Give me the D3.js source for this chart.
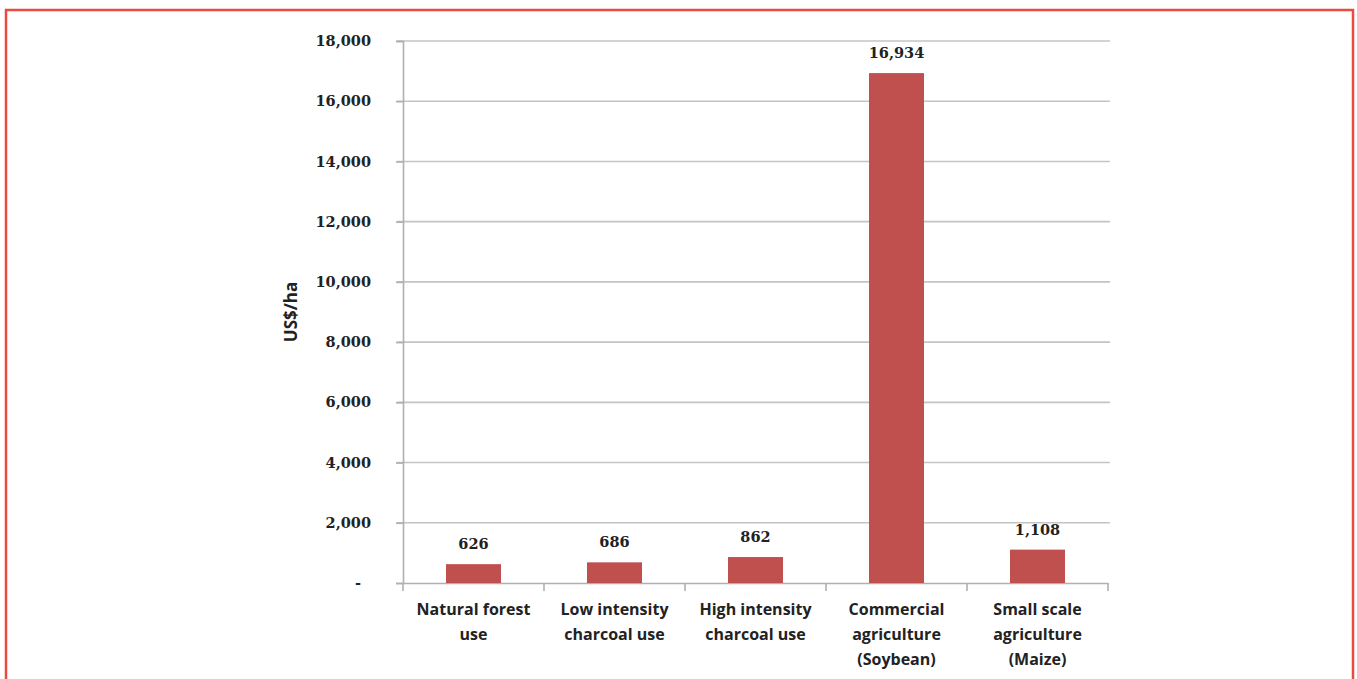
<!DOCTYPE html>
<html>
<head>
<meta charset="utf-8">
<script src="https://cdn.jsdelivr.net/npm/d3@7"></script>
<style>
  html, body { margin: 0; padding: 0; background: #fff; }
  svg { display: block; }
</style>
</head>
<body>
<svg id="chart" width="1357" height="679"></svg>
<script>
// Net returns per hectare by land use
const categories = [
  ["Natural forest", "use"],
  ["Low intensity", "charcoal use"],
  ["High intensity", "charcoal use"],
  ["Commercial", "agriculture", "(Soybean)"],
  ["Small scale", "agriculture", "(Maize)"]
];
const values = [626, 686, 862, 16934, 1108];
const yTicks = [0, 2000, 4000, 6000, 8000, 10000, 12000, 14000, 16000, 18000];
const yLabel = "US$/ha";

const svg = d3.select("#chart");

// outer frame
svg.append("rect")
  .attr("x", 6).attr("y", 10)
  .attr("width", 1347).attr("height", 700)
  .attr("fill", "none")
  .attr("stroke", "#ea4a3f")
  .attr("stroke-width", 2.5);

const plotLeft = 403, plotRight = 1108, plotTop = 41, plotBottom = 583;

const x = d3.scaleBand()
  .domain(d3.range(values.length))
  .range([plotLeft, plotRight])
  .paddingInner(0.61)
  .paddingOuter(0.305);

const y = d3.scaleLinear().domain([0, 18000]).range([plotBottom, plotTop]);

const numFmt = d3.format(",");
const serif = "'DejaVu Serif', 'Liberation Serif', serif";
const sans = "'Open Sans', Lato, sans-serif";

// gridlines
svg.append("g")
  .selectAll("line")
  .data(yTicks.filter(d => d > 0))
  .join("line")
  .attr("x1", plotLeft - 6).attr("x2", plotRight + 2)
  .attr("y1", d => y(d)).attr("y2", d => y(d))
  .attr("stroke", "#c4c4c4")
  .attr("stroke-width", 1.6);

// y axis
const yAxis = svg.append("g")
  .attr("transform", `translate(${plotLeft},0)`)
  .call(d3.axisLeft(y).tickValues(yTicks).tickSize(7).tickPadding(25)
    .tickFormat(d => d === 0 ? "-" : numFmt(d)));
yAxis.select(".domain").attr("stroke", "#b0b0b0").attr("stroke-width", 1.6);
yAxis.selectAll(".tick line").attr("stroke", "#b0b0b0").attr("stroke-width", 1.6);
yAxis.selectAll(".tick text")
  .attr("font-family", serif)
  .attr("font-weight", "bold")
  .attr("font-size", 14.5)
  .attr("fill", "#222");
// accounting-style dash for zero sits left of the digit column
yAxis.selectAll(".tick text").filter(d => d === 0).attr("dx", -10);

// x axis
const xAxis = svg.append("g")
  .attr("transform", `translate(0,${plotBottom})`)
  .call(d3.axisBottom(x).tickSize(0).tickFormat(""));
xAxis.select(".domain").attr("stroke", "#b0b0b0").attr("stroke-width", 1.6);
// category dividers
svg.append("g")
  .selectAll("line")
  .data(d3.range(values.length + 1))
  .join("line")
  .attr("x1", i => plotLeft + i * x.step())
  .attr("x2", i => plotLeft + i * x.step())
  .attr("y1", plotBottom).attr("y2", plotBottom + 8)
  .attr("stroke", "#b0b0b0").attr("stroke-width", 1.6);

// category labels
const catG = svg.append("g");
categories.forEach((lines, i) => {
  const t = catG.append("text")
    .attr("x", x(i) + x.bandwidth() / 2)
    .attr("y", 615)
    .attr("text-anchor", "middle")
    .attr("font-family", sans)
    .attr("font-weight", "bold")
    .attr("font-size", 16)
    .attr("fill", "#222");
  lines.forEach((ln, j) => {
    t.append("tspan")
      .attr("x", x(i) + x.bandwidth() / 2)
      .attr("dy", j === 0 ? 0 : 25)
      .text(ln);
  });
});

// bars
svg.append("g")
  .selectAll("rect")
  .data(values)
  .join("rect")
  .attr("x", (d, i) => x(i))
  .attr("y", d => y(d))
  .attr("width", x.bandwidth())
  .attr("height", d => y(0) - y(d))
  .attr("fill", "#c0504d");

// value labels
svg.append("g")
  .selectAll("text")
  .data(values)
  .join("text")
  .attr("x", (d, i) => x(i) + x.bandwidth() / 2)
  .attr("y", d => y(d) - 15)
  .attr("text-anchor", "middle")
  .attr("font-family", serif)
  .attr("font-weight", "bold")
  .attr("font-size", 14.5)
  .attr("fill", "#222")
  .text(d => numFmt(d));

// y axis title
svg.append("text")
  .attr("transform", `translate(297,${(plotTop + plotBottom) / 2}) rotate(-90)`)
  .attr("text-anchor", "middle")
  .attr("font-family", sans)
  .attr("font-weight", "bold")
  .attr("font-size", 17)
  .attr("fill", "#222")
  .text(yLabel);
</script>
</body>
</html>
